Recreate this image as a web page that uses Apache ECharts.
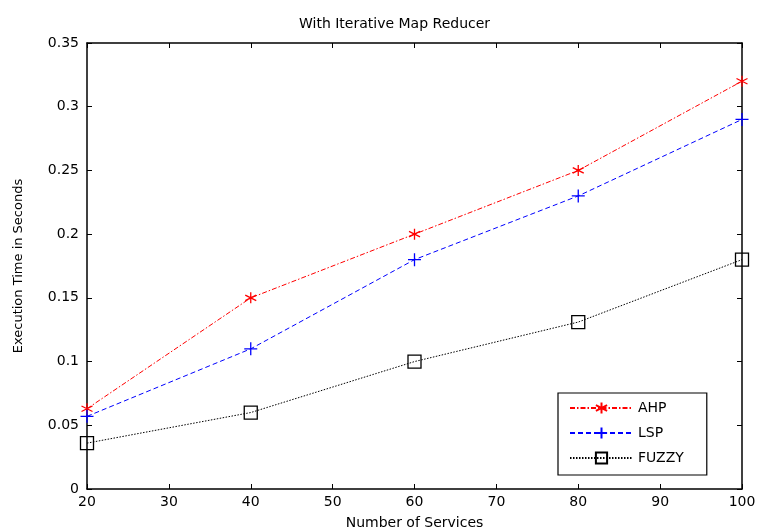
<!DOCTYPE html>
<html>
<head>
<meta charset="utf-8">
<script src="https://cdn.jsdelivr.net/npm/echarts@6/dist/echarts.min.js"></script>
<style>
  html, body {margin: 0; padding: 0; background: #fff;}
  #main {width: 758px; height: 532px;}
</style>
</head>
<body>
<div id="main"></div>
<script>
    var services = [20, 40, 60, 80, 100];
    var ahp = [0.063, 0.150, 0.200, 0.250, 0.320];
    var lsp = [0.057, 0.110, 0.180, 0.230, 0.290];
    var fuzzy = [0.036, 0.060, 0.100, 0.131, 0.180];

    function pairs(xs, ys) {
        return xs.map(function (x, i) { return [x, ys[i]]; });
    }

    var font = 'DejaVu Sans';
    var starPath = 'path://M0,-5L0,5M-4.5,-2.5L4.5,2.5M-4.5,2.5L4.5,-2.5';
    var plusPath = 'path://M0,-5L0,5M-5,0L5,0';

    var chart = echarts.init(document.getElementById('main'));
    var axisBase = {
        axisLine: {show: true, onZero: false, lineStyle: {color: '#000', width: 1.5}},
        axisTick: {show: true, inside: true, length: 5, lineStyle: {color: '#000', width: 1}},
        splitLine: {show: false}
    };
    var option = {
        animation: false,
        backgroundColor: '#fff',
        title: {
            text: 'With Iterative Map Reducer',
            left: 294,
            top: 12,
            textStyle: {fontFamily: font, fontWeight: 'normal', fontSize: 14, color: '#000'}
        },
        grid: {left: 87, right: 16, top: 43, bottom: 43, outerBoundsMode: 'none', containLabel: false},
        legend: {
            orient: 'vertical',
            left: 558,
            top: 393,
            padding: [8, 23, 10, 11],
            itemWidth: 63,
            itemHeight: 14,
            itemGap: 11,
            borderColor: '#000',
            borderWidth: 1.2,
            backgroundColor: '#fff',
            textStyle: {fontFamily: font, fontSize: 14, color: '#000'},
            data: ['AHP', 'LSP', 'FUZZY']
        },
        xAxis: [
            Object.assign({
                type: 'value',
                min: 20,
                max: 100,
                interval: 10,
                name: 'Number of Services',
                nameLocation: 'middle',
                nameGap: 27,
                nameTextStyle: {fontFamily: font, fontSize: 14, color: '#000'},
                axisLabel: {fontFamily: font, fontSize: 14, color: '#000', margin: 6}
            }, axisBase),
            Object.assign({
                type: 'value',
                position: 'top',
                min: 20,
                max: 100,
                interval: 10,
                axisLabel: {show: false}
            }, axisBase)
        ],
        yAxis: [
            Object.assign({
                type: 'value',
                min: 0,
                max: 0.35,
                interval: 0.05,
                name: 'Execution Time in Seconds',
                nameLocation: 'middle',
                nameGap: 62,
                nameTextStyle: {fontFamily: font, fontSize: 13, color: '#000'},
                axisLabel: {fontFamily: font, fontSize: 14, color: '#000', margin: 8}
            }, axisBase),
            Object.assign({
                type: 'value',
                position: 'right',
                min: 0,
                max: 0.35,
                interval: 0.05,
                axisLabel: {show: false}
            }, axisBase)
        ],
        series: [
            {
                name: 'AHP',
                type: 'line',
                data: pairs(services, ahp),
                symbol: starPath,
                symbolSize: 11,
                itemStyle: {color: '#ff0000', borderColor: '#ff0000', borderWidth: 1.3},
                lineStyle: {color: '#ff0000', width: 1, type: [5, 2, 1.5, 2]}
            },
            {
                name: 'LSP',
                type: 'line',
                data: pairs(services, lsp),
                symbol: plusPath,
                symbolSize: 13,
                itemStyle: {color: '#0000ff', borderColor: '#0000ff', borderWidth: 1.3},
                lineStyle: {color: '#0000ff', width: 1, type: [5, 3]}
            },
            {
                name: 'FUZZY',
                type: 'line',
                data: pairs(services, fuzzy),
                symbol: 'rect',
                symbolSize: 13,
                itemStyle: {color: 'rgba(0,0,0,0)', borderColor: '#000', borderWidth: 1.3},
                lineStyle: {color: '#000', width: 1, type: [1.5, 1.5]}
            }
        ]
    };
    chart.setOption(option);
</script>
</body>
</html>
